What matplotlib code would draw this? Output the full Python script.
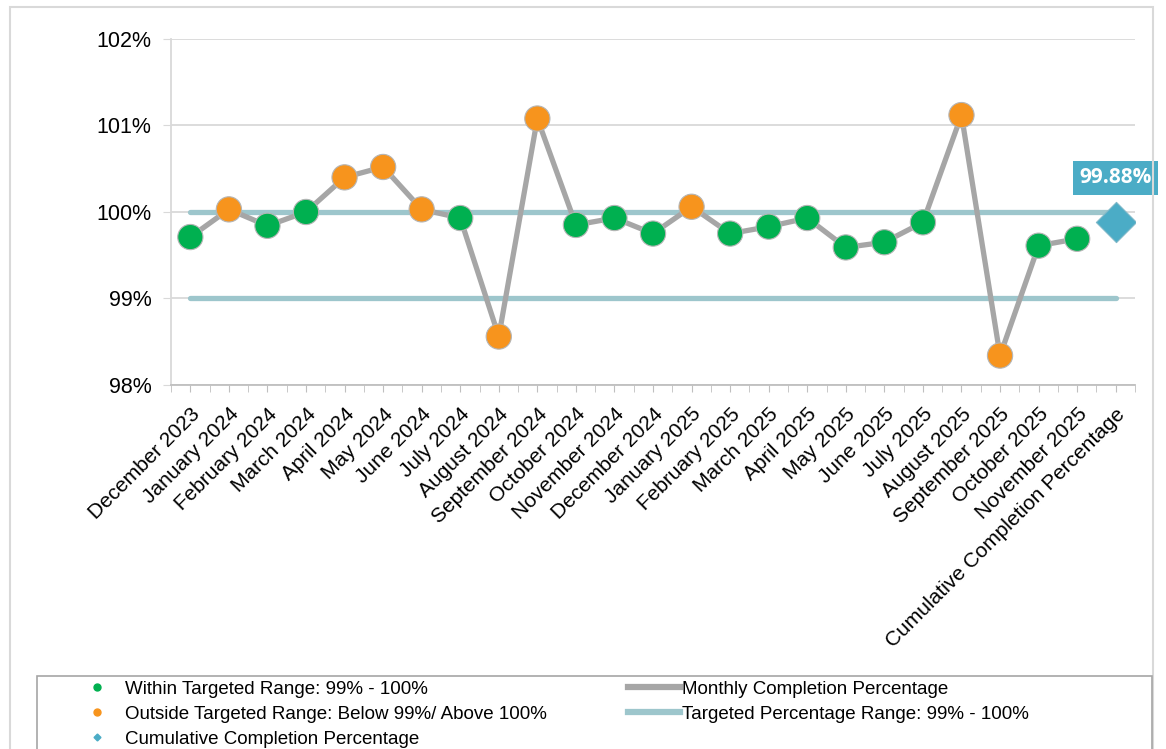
import matplotlib.pyplot as plt
from matplotlib.patches import Rectangle
from matplotlib.lines import Line2D
from matplotlib.ticker import FuncFormatter, MultipleLocator

plt.rcParams['font.family'] = ['Liberation Sans', 'DejaVu Sans']

months = ["December 2023", "January 2024", "February 2024", "March 2024", "April 2024",
          "May 2024", "June 2024", "July 2024", "August 2024", "September 2024",
          "October 2024", "November 2024", "December 2024", "January 2025", "February 2025",
          "March 2025", "April 2025", "May 2025", "June 2025", "July 2025",
          "August 2025", "September 2025", "October 2025", "November 2025"]
monthly_pct = [99.71, 100.03, 99.84, 100.00, 100.40, 100.52, 100.03, 99.93, 98.56, 101.08,
               99.85, 99.93, 99.75, 100.06, 99.75, 99.83, 99.93, 99.59, 99.65, 99.88,
               101.12, 98.34, 99.61, 99.69]
cumulative_label = "Cumulative Completion Percentage"
cumulative_pct = 99.88
target_low = 99
target_high = 100

green = '#00B050'
orange = '#F7941D'
gray = '#A6A6A6'
teal = '#9DC6CC'
blue = '#4BACC6'

categories = months + [cumulative_label]
xs = list(range(len(months)))
x_cum = len(months)

fig = plt.figure(figsize=(11.66, 7.49), dpi=100)
ax = fig.add_axes([0.1467, 0.486, 0.8267, 0.462])

# target range lines
for t in (target_low, target_high):
    ax.plot([0, x_cum], [t, t], color=teal, lw=3.8, solid_capstyle='round', zorder=2)

ax.plot(xs, monthly_pct, color=gray, lw=3.8, zorder=3)
colors = [green if target_low <= v <= target_high else orange for v in monthly_pct]
ax.scatter(xs, monthly_pct, s=330, c=colors, edgecolors='#b5b5b5', linewidths=0.8, zorder=4)
ax.scatter([x_cum], [cumulative_pct], s=420, marker='D', c=blue, edgecolors='#7fb8c8',
           linewidths=0.8, zorder=4)
ax.annotate(f"{cumulative_pct:.2f}%", (x_cum, cumulative_pct), xytext=(0, 32),
            textcoords='offset points', ha='center', va='center', color='white',
            fontsize=15, fontweight='bold', family=['Open Sans', 'DejaVu Sans'],
            bbox=dict(boxstyle='square,pad=0.3', fc=blue, ec='none'))

ax.set_ylim(98, 102)
ax.set_xlim(-0.5, len(categories) - 0.5)
ax.yaxis.set_major_locator(MultipleLocator(1))
ax.yaxis.set_major_formatter(FuncFormatter(lambda v, p: f"{v:.0f}%"))
ax.grid(axis='y', color='#D9D9D9', lw=1.3)
ax.set_axisbelow(True)

ax.set_xticks(range(len(categories)))
ax.set_xticks([i - 0.5 for i in range(len(categories) + 1)], minor=True)
ax.set_xticklabels(categories, rotation=45, ha='right', rotation_mode='anchor', fontsize=15)
ax.tick_params(axis='x', which='both', length=5, color='#BFBFBF', pad=9)
ax.tick_params(axis='y', length=6, color='#D9D9D9', labelsize=15.5, pad=8)
for side in ('top', 'right'):
    ax.spines[side].set_visible(False)
ax.spines['left'].set_color('#D9D9D9')
ax.spines['bottom'].set_color('#BFBFBF')
ax.spines['left'].set_linewidth(1.3)
ax.spines['bottom'].set_linewidth(1.3)

# outer chart border and legend box
fig.patches.append(Rectangle((0.0086, -0.01), 0.98, 1.0, transform=fig.transFigure,
                             fill=False, ec='#D9D9D9', lw=1.5))
fig.patches.append(Rectangle((0.0317, -0.01), 0.956, 0.1075, transform=fig.transFigure,
                             fill=False, ec='#A6A6A6', lw=1.2))

handles1 = [
    Line2D([], [], ls='none', marker='o', ms=5, color=green),
    Line2D([], [], ls='none', marker='o', ms=5, color=orange),
    Line2D([], [], ls='none', marker='D', ms=3.5, color=blue),
]
labels1 = ["Within Targeted Range: 99% - 100%",
           "Outside Targeted Range: Below 99%/ Above 100%",
           "Cumulative Completion Percentage"]
handles2 = [
    Line2D([], [], color=gray, lw=4.5),
    Line2D([], [], color=teal, lw=4.5),
]
labels2 = ["Monthly Completion Percentage",
           "Targeted Percentage Range: 99% - 100%"]

common = dict(loc='upper left', fontsize=13.5, frameon=False, handlelength=2.77,
              handletextpad=0.1, labelspacing=0.42, borderaxespad=0, borderpad=0)
fig.legend(handles1, labels1, bbox_to_anchor=(0.0609, 0.0915), **common)
fig.legend(handles2, labels2, bbox_to_anchor=(0.5386, 0.0915), **common)

fig.savefig('out.png', dpi=100)
